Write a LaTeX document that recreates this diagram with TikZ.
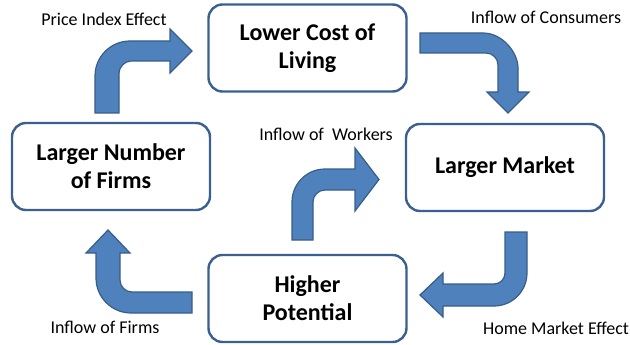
\documentclass[tikz,border=0pt]{standalone}
\usepackage{fontspec}
\setmainfont{Carlito}
\definecolor{arrowfill}{HTML}{4F81BD}
\definecolor{arrowline}{HTML}{385D8A}
\definecolor{boxline}{HTML}{3B6090}
\begin{document}
\begin{tikzpicture}[x=1pt,y=-1pt,
  stagebox/.style={draw=boxline, line width=2.4pt, fill=white, rounded corners=14pt,
    minimum width=198pt, minimum height=87pt, inner sep=2pt, align=center,
    font=\fontsize{24}{28}\selectfont\bfseries},
  effectlabel/.style={inner sep=0pt, anchor=center, font=\fontsize{18}{21}\selectfont},
  blockarrow/.style={fill=arrowfill, draw=arrowline, line width=1.2pt, line join=miter}]
\useasboundingbox (0,0) rectangle (630,345);

% stages of the cycle
\node[stagebox] (cost)   at (307.5,48)  {Lower Cost of\\Living};
\node[stagebox] (market) at (505,167.5) {Larger Market};
\node[stagebox] (pot)    at (307.5,298.5) {Higher\\Potential};
\node[stagebox] (firms)  at (111,166.5) {Larger Number\\of Firms};

% bent block arrows between the stages
% firms -> cost
\filldraw[blockarrow] (95,113) -- (95,76) .. controls (95,56.7) and (110.7,41) .. (130,41)
  -- (170,41) -- (170,29) -- (192,51) -- (170,73) -- (170,61) -- (131,61)
  .. controls (124.4,61) and (119,67.6) .. (119,73) -- (119,113) -- cycle;
% cost -> market
\filldraw[blockarrow] (420,33) -- (483,33) .. controls (502.3,33) and (518,52.3) .. (518,68)
  -- (518,92) -- (529,92) -- (508,113) -- (487,92) -- (498,92) -- (498,65)
  .. controls (498,58.4) and (492.6,53) .. (486,53) -- (420,53) -- cycle;
% potential -> market
\filldraw[blockarrow] (292,240) -- (292,202) .. controls (292,183.8) and (306.8,169) .. (325,169)
  -- (355,169) -- (355,148) -- (379,179.5) -- (355,211) -- (355,190) -- (325,190)
  .. controls (318.4,190) and (313,195.4) .. (313,202) -- (313,240) -- cycle;
% market -> potential
\filldraw[blockarrow] (505,232) -- (527,232) -- (527,273) .. controls (527,291.2) and (512.2,306) .. (494,306)
  -- (443,306) -- (443,317) -- (420,295) -- (443,273) -- (443,284) -- (494,284)
  .. controls (500.1,284) and (505,279.1) .. (505,273) -- cycle;
% potential -> firms
\filldraw[blockarrow] (192,313) -- (131,313) .. controls (111.7,313) and (96,297.3) .. (96,278)
  -- (96,253) -- (86,253) -- (108,230) -- (130,253) -- (120,253) -- (120,280)
  .. controls (120,286.6) and (125.4,292) .. (132,292) -- (192,292) -- cycle;

% effect labels
\node[effectlabel] (lprice)   at (104,19)  {Price Index Effect};
\node[effectlabel] (lcons)    at (546,17)  {Inflow of Consumers};
\node[effectlabel] (lworkers) at (326,134) {Inflow of\ \ Workers};
\node[effectlabel] (lfirms)   at (105,327) {Inflow of Firms};
\node[effectlabel] (lhome)    at (556,328) {Home Market Effect};
\end{tikzpicture}
\end{document}
